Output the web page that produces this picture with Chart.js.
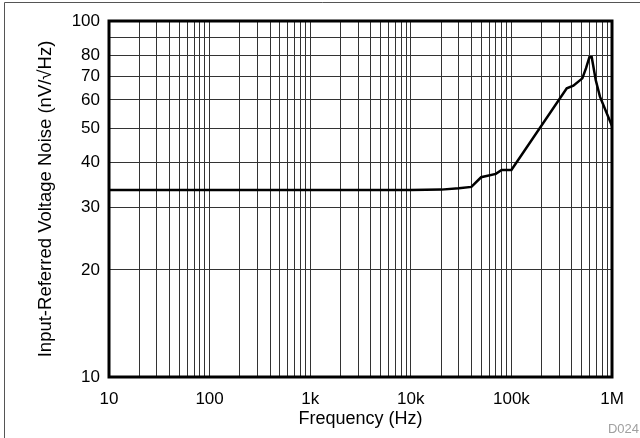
<!DOCTYPE html>
<html>
<head>
<meta charset="utf-8">
<title>Input-Referred Voltage Noise vs Frequency</title>
<script src="https://cdn.jsdelivr.net/npm/chart.js@4/dist/chart.umd.min.js"></script>
<style>
  html, body { margin: 0; padding: 0; background: #fff; }
  #wrap { position: relative; width: 640px; height: 438px; }
</style>
</head>
<body>
<div id="wrap"><canvas id="noiseChart" width="640" height="438"></canvas></div>
<script>
// curve (Hz, nV/rtHz)
const frequency = [10, 100, 1000, 10000, 20000, 30000, 40000, 50000, 70000, 80000, 100000,
                   355000, 413000, 507000, 552000, 596000, 629000, 689000, 759000, 1000000];
const noise = [33.5, 33.5, 33.5, 33.5, 33.6, 33.9, 34.2, 36.4, 37.2, 38.15, 38.15,
               64.7, 65.8, 69, 73.7, 79.1, 79.1, 68.3, 61.3, 50.7];

// axis ticks / labels
const xDecades = [10, 100, 1000, 10000, 100000];
const xLabels = { 10: "10", 100: "100", 1000: "1k", 10000: "10k", 100000: "100k", 1000000: "1M" };
const yTicks = [10, 20, 30, 40, 50, 60, 70, 80, 90, 100];
const yLabels = { 10: "10", 20: "20", 30: "30", 40: "40", 50: "50", 60: "60", 70: "70", 80: "80", 100: "100" };

const xTicks = [];
xDecades.forEach(d => {
    for (let m = 1; m < 10; m++) xTicks.push(d * m);
});
xTicks.push(1000000);

const FONT = "'Liberation Sans', Arial, Helvetica, sans-serif";

const framePlugin = {
    id: "frame",
    beforeDraw(chart) {
        const ctx = chart.ctx;
        ctx.save();
        ctx.strokeStyle = "#555";
        ctx.lineWidth = 1;
        ctx.beginPath();
        ctx.moveTo(4.5, 438);
        ctx.lineTo(4.5, 2.5);
        ctx.lineTo(640, 2.5);
        ctx.stroke();
        // footnote id
        ctx.fillStyle = "#a0a0a0";
        ctx.font = "13px " + FONT;
        ctx.textAlign = "right";
        ctx.textBaseline = "alphabetic";
        ctx.fillText("D024", 639, 433);
        ctx.restore();
    },
    beforeDatasetsDraw(chart) {
        const a = chart.chartArea;
        const ctx = chart.ctx;
        ctx.save();
        ctx.strokeStyle = "#000";
        ctx.lineWidth = 3;
        ctx.strokeRect(a.left, a.top, a.right - a.left, a.bottom - a.top);
        ctx.restore();
    }
};

const ctx = document.getElementById("noiseChart").getContext("2d");
new Chart(ctx, {
    type: "line",
    data: {
        datasets: [{
            data: frequency.map((f, i) => ({ x: f, y: noise[i] })),
            borderColor: "#000",
            borderWidth: 2.5,
            pointRadius: 0,
            tension: 0,
            fill: false
        }]
    },
    options: {
        responsive: false,
        animation: false,
        events: [],
        layout: { padding: { top: 21, right: 28, bottom: 0, left: 0 } },
        plugins: { legend: { display: false }, tooltip: { enabled: false } },
        scales: {
            x: {
                type: "logarithmic",
                min: 10,
                max: 1000000,
                afterBuildTicks: s => { s.ticks = xTicks.map(v => ({ value: v })); },
                afterFit: s => { s.height = 61; },
                grid: { color: "#333", lineWidth: 1, drawTicks: false },
                border: { display: false },
                ticks: {
                    autoSkip: false,
                    maxRotation: 0,
                    padding: 12,
                    color: "#000",
                    font: { family: FONT, size: 17 },
                    callback: v => xLabels[v] || ""
                },
                title: {
                    display: true,
                    text: "Frequency (Hz)",
                    color: "#000",
                    font: { family: FONT, size: 18 },
                    padding: { top: 0, bottom: 8 }
                }
            },
            y: {
                type: "logarithmic",
                min: 10,
                max: 100,
                afterBuildTicks: s => { s.ticks = yTicks.map(v => ({ value: v })); },
                afterFit: s => { s.width = 109; },
                grid: { color: "#333", lineWidth: 1, drawTicks: false },
                border: { display: false },
                ticks: {
                    autoSkip: false,
                    padding: 9,
                    color: "#000",
                    font: { family: FONT, size: 17 },
                    callback: v => yLabels[v] || ""
                },
                title: {
                    display: true,
                    text: "Input-Referred Voltage Noise (nV/\u221AHz)",
                    color: "#000",
                    font: { family: FONT, size: 18.5 },
                    padding: { top: 35, bottom: 0 }
                }
            }
        }
    },
    plugins: [framePlugin]
});
</script>
</body>
</html>
